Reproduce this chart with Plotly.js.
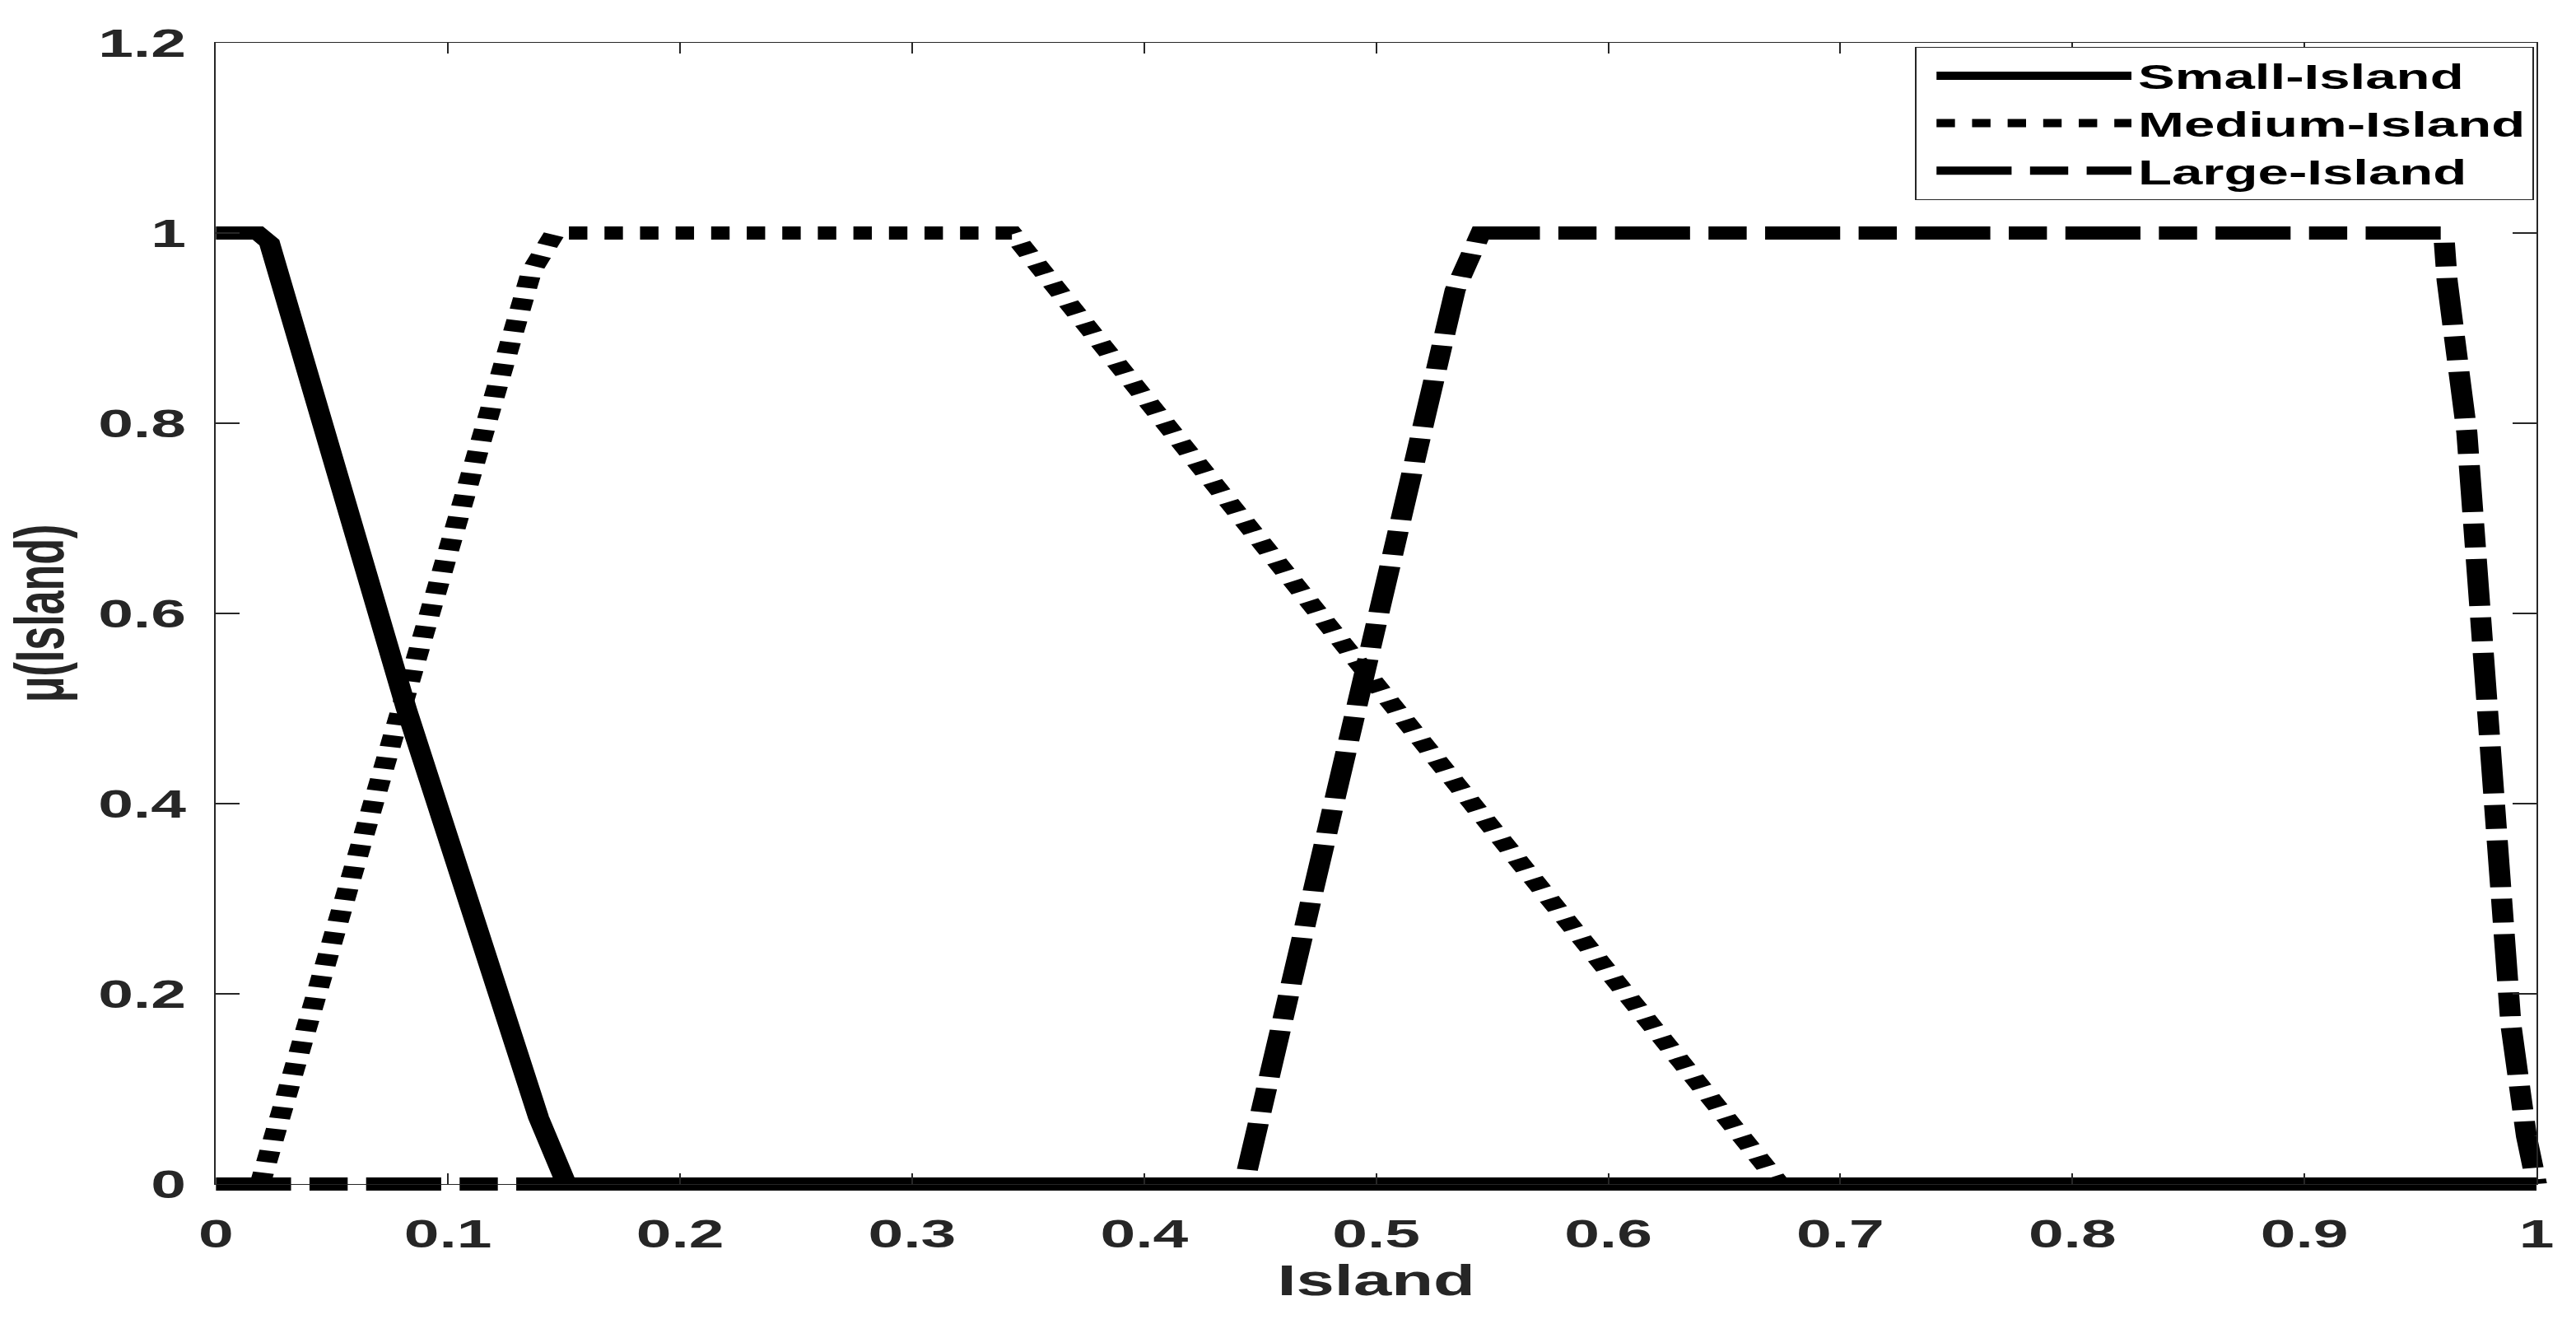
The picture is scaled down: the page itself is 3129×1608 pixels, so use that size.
<!DOCTYPE html>
<html>
<head>
<meta charset="utf-8">
<script src="https://cdn.plot.ly/plotly-3.0.1.min.js"></script>
<style>
  html, body { margin: 0; padding: 0; background: #ffffff; overflow: hidden; }
  #wrap { width: 3129px; height: 1608px; overflow: hidden; }
  #chart { width: 1956px; height: 1608px; transform: scaleX(1.59969); transform-origin: 0 0; }
</style>
</head>
<body>
<div id="wrap"><div id="chart"></div></div>
<script>
// ---- data ----
const seriesNames = ["Small-Island", "Medium-Island", "Large-Island"];

const smallX = [0, 0.018, 0.023, 0.082, 0.139, 0.151, 1];
const smallY = [1, 1, 0.99, 0.5, 0.07, 0, 0];

const mediumX = [0.019, 0.136, 0.146, 0.343, 0.495, 0.674, 1];
const mediumY = [0, 0.96, 1, 1, 0.54, 0, 0];

const largeX = [0, 0.443, 0.534, 0.545, 0.960, 0.9615, 0.970, 0.977, 0.983, 0.989, 0.9957, 1.0];
const largeY = [0, 0, 0.94, 1, 1, 0.95, 0.79, 0.585, 0.376, 0.167, 0.05, 0];

const xTickVals = [0, 0.1, 0.2, 0.3, 0.4, 0.5, 0.6, 0.7, 0.8, 0.9, 1];
const xTickText = ["0", "0.1", "0.2", "0.3", "0.4", "0.5", "0.6", "0.7", "0.8", "0.9", "1"];
const yTickVals = [0, 0.2, 0.4, 0.6, 0.8, 1, 1.2];
const yTickText = ["0", "0.2", "0.4", "0.6", "0.8", "1", "1.2"];

const xTitle = "Island";
const yTitle = "\u03bc(Island)";

// ---- traces ----
const FONT = "Liberation Sans, Arial, Helvetica, sans-serif";
const LW = 16;
const traces = [
  { x: smallX, y: smallY, name: seriesNames[0], mode: "lines", cliponaxis: false,
    line: { color: "#000000", width: LW, dash: "solid" } },
  { x: mediumX, y: mediumY, name: seriesNames[1], mode: "lines", cliponaxis: false,
    line: { color: "#000000", width: LW, dash: "14px,13px" } },
  { x: largeX, y: largeY, name: seriesNames[2], mode: "lines", cliponaxis: false,
    line: { color: "#000000", width: LW, dash: "57px,14px,29px,14px" } }
];

const axisCommon = {
  showgrid: false, zeroline: false, showline: true, mirror: "ticks",
  linecolor: "#262626", linewidth: 1.2, ticks: "inside", tickcolor: "#262626",
  tickwidth: 1.2, tickfont: { family: FONT, size: 48, color: "#262626", weight: "bold" }
};

const layout = {
  width: 1956, height: 1608,
  margin: { l: 164, r: 30, t: 52, b: 170, pad: 0 },
  paper_bgcolor: "#ffffff", plot_bgcolor: "#ffffff",
  showlegend: true,
  legend: {
    x: 0.999, y: 0.9964, xanchor: "right", yanchor: "top",
    bgcolor: "#ffffff", bordercolor: "#262626", borderwidth: 1.2,
    font: { family: FONT, size: 42, color: "#000000", weight: "bold" },
    itemwidth: 148, indentation: 10, tracegroupgap: 0
  },
  xaxis: Object.assign({}, axisCommon, {
    range: [0, 1], tickvals: xTickVals, ticktext: xTickText, ticklen: 13,
    ticklabelstandoff: 18,
    title: { text: xTitle, standoff: 12, font: { family: FONT, size: 52, color: "#262626", weight: "bold" } }
  }),
  yaxis: Object.assign({}, axisCommon, {
    range: [0, 1.2], tickvals: yTickVals, ticktext: yTickText, ticklen: 18,
    ticklabelstandoff: 12,
    title: { text: yTitle, standoff: 9, font: { family: FONT, size: 52, color: "#262626", weight: "bold" } }
  })
};

Plotly.newPlot("chart", traces, layout, { staticPlot: true, displayModeBar: false }).then(function (gd) {
  // let the thick curves overhang the axes like the reference (no clipping of the lines)
  gd.querySelectorAll(".cartesianlayer [clip-path]").forEach(function (el) {
    el.removeAttribute("clip-path");
  });
});
</script>
</body>
</html>
